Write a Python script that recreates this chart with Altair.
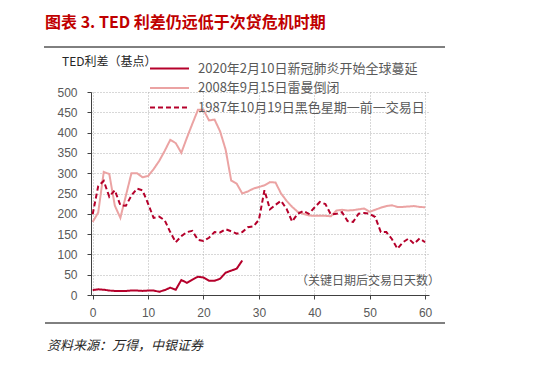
import altair as alt
import pandas as pd

# ---- data ----
s2020 = "2020年2月10日新冠肺炎开始全球蔓延"
s2008 = "2008年9月15日雷曼倒闭"
s1987 = "1987年10月19日黑色星期一前一交易日"
series_names = [s2020, s2008, s1987]

days_2020 = list(range(28))
vals_2020 = [12, 14, 13, 11, 10, 10, 10, 11, 11, 10, 11, 11, 8, 12, 18, 13, 37, 30,
             38, 45, 43, 35, 35, 40, 55, 60, 65, 85]

days_2008 = list(range(61))
vals_2008 = [180, 203, 303, 298, 220, 190, 245, 300, 300, 290,
             293, 310, 330, 355, 382, 374, 350, 387, 422, 456,
             456, 430, 432, 403, 358, 282, 274, 250, 255, 262,
             266, 270, 278, 277, 250, 232, 217, 205, 200, 196,
             195, 195, 195, 194, 208, 210, 208, 209, 211, 213,
             205, 210, 215, 219, 221, 217, 217, 218, 219, 217, 216]

days_1987 = list(range(61))
vals_1987 = [199, 268, 281, 242, 258, 221, 220, 245, 262, 258,
             225, 190, 193, 184, 155, 130, 145, 155, 158, 136,
             133, 141, 155, 154, 162, 157, 151, 155, 167, 169,
             185, 258, 211, 222, 232, 212, 181, 200, 207, 200,
             215, 229, 224, 198, 200, 204, 182, 180, 200, 202,
             200, 192, 155, 155, 138, 114, 130, 139, 126, 139, 130]

y_ticks = list(range(0, 501, 50))
x_ticks = list(range(0, 61, 10))

title_text = "图表 3. TED 利差仍远低于次贷危机时期"
ytitle_text = "TED利差（基点）"
note_text = "（关键日期后交易日天数）"
source_text = "资料来源：万得，中银证券"

DARK = "#b5002b"
PINK = "#eba3a3"

rows = []
for d, v in zip(days_2008, vals_2008):
    rows.append({"day": d, "value": v, "series": s2008})
for d, v in zip(days_1987, vals_1987):
    rows.append({"day": d, "value": v, "series": s1987})
for d, v in zip(days_2020, vals_2020):
    rows.append({"day": d, "value": v, "series": s2020})
df = pd.DataFrame(rows)

FONT = "Noto Sans CJK SC"
NUMFONT = "Liberation Sans"

legend_kw = dict(
    title=None, orient="none", legendX=71, legendY=-31, direction="vertical",
    symbolType="M-3,0H3", symbolSize=169, symbolStrokeWidth=2,
    symbolFillColor="transparent",
    labelFontSize=13, labelFont=FONT, labelColor="#595959", labelLimit=400,
    rowPadding=4.5, labelOffset=21, padding=0,
)

lines = alt.Chart(df).mark_line(strokeWidth=2).encode(
    x=alt.X("day:Q", scale=alt.Scale(domain=[-0.3, 60.7], nice=False, zero=False),
            axis=alt.Axis(values=x_ticks, title=None, format="d")),
    y=alt.Y("value:Q", scale=alt.Scale(domain=[0, 500], nice=False),
            axis=alt.Axis(values=y_ticks, title=None, format="d")),
    color=alt.Color("series:N", scale=alt.Scale(domain=series_names, range=[DARK, PINK, DARK]),
                    legend=alt.Legend(**legend_kw)),
    strokeDash=alt.StrokeDash("series:N", scale=alt.Scale(domain=series_names,
                                                          range=[[1, 0], [1, 0], [5, 3]]),
                              legend=alt.Legend(**legend_kw)),
    order=alt.Order("day:Q"),
)

one = pd.DataFrame({"t": [title_text]})

title = alt.Chart(pd.DataFrame({"t": [title_text]})).mark_text(
    font=FONT, fontSize=16, fontWeight="bold", color="#c00000", align="left", baseline="middle"
).encode(text="t:N", x=alt.value(-46), y=alt.value(-69))

top_rule = alt.Chart(one).mark_rule(color="#000000", strokeWidth=1).encode(
    x=alt.value(-47), x2=alt.value(354), y=alt.value(-45))

bot_rule = alt.Chart(one).mark_rule(color="#000000", strokeWidth=1).encode(
    x=alt.value(-46), x2=alt.value(354), y=alt.value(231))

ytitle = alt.Chart(pd.DataFrame({"t": [ytitle_text]})).mark_text(
    font=FONT, fontSize=12, color="#262626", align="left", baseline="middle"
).encode(text="t:N", x=alt.value(-29), y=alt.value(-30))

note = alt.Chart(pd.DataFrame({"t": [note_text]})).mark_text(
    font=FONT, fontSize=12, color="#595959", align="center", baseline="middle"
).encode(text="t:N", x=alt.value(277), y=alt.value(189))

source = alt.Chart(pd.DataFrame({"t": [source_text]})).mark_text(
    font=FONT, fontSize=13, fontStyle="italic", color="#262626", align="left", baseline="middle"
).encode(text="t:N", x=alt.value(-44), y=alt.value(254))

chart = alt.layer(lines, title, top_rule, bot_rule, ytitle, note, source).properties(
    width=338, height=203,
    autosize=alt.AutoSizeParams(type="none"),
    padding={"left": 83, "top": 84, "right": 104, "bottom": 64},
).configure_view(stroke=None).configure_axis(
    gridColor="#b0b0b0", gridDash=[1, 2], gridWidth=1,
    domainColor="#404040", tickColor="#404040", tickSize=4,
    labelFont=NUMFONT, labelFontSize=12, labelColor="#595959", labelPadding=8,
).configure_axisY(labelPadding=10).configure_axisX(grid=True)

chart.save("out.html", embed_options={"renderer": "svg", "actions": False})
